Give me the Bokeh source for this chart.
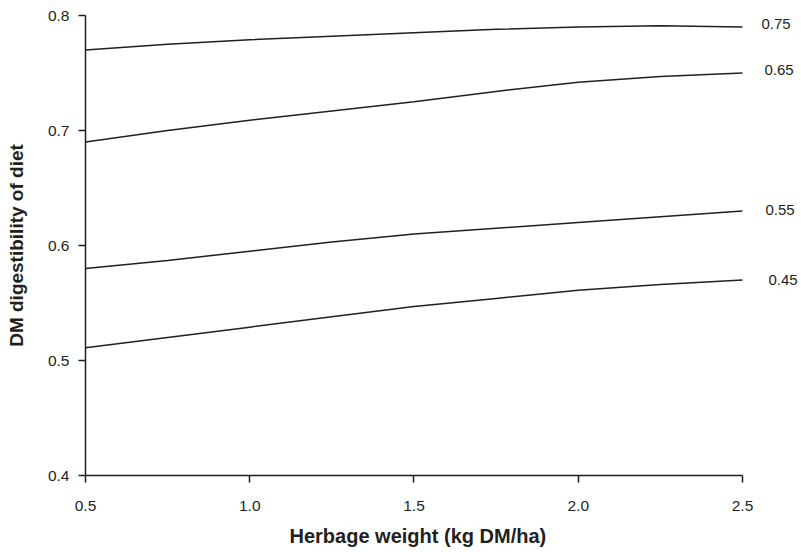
from bokeh.plotting import figure
from bokeh.models import Range1d, FixedTicker, PrintfTickFormatter, ColumnDataSource, Title
from bokeh.embed import file_html
from bokeh.resources import INLINE
from bokeh.core.properties import value

# Data
herbage = [0.5, 0.75, 1.0, 1.25, 1.5, 1.75, 2.0, 2.25, 2.5]
series_names = ["0.75", "0.65", "0.55", "0.45"]
dig_075 = [0.770, 0.775, 0.779, 0.782, 0.785, 0.788, 0.790, 0.791, 0.790]
dig_065 = [0.690, 0.700, 0.709, 0.717, 0.725, 0.734, 0.742, 0.747, 0.750]
dig_055 = [0.580, 0.587, 0.595, 0.603, 0.610, 0.615, 0.620, 0.625, 0.630]
dig_045 = [0.511, 0.520, 0.529, 0.538, 0.547, 0.554, 0.561, 0.566, 0.570]
x_ticks = [0.5, 1.0, 1.5, 2.0, 2.5]
y_ticks = [0.4, 0.5, 0.6, 0.7, 0.8]
x_label = "Herbage weight (kg DM/ha)"
y_label = "DM digestibility of diet"

series = [dig_075, dig_065, dig_055, dig_045]

INK = "#231f20"
FONT = "Liberation Sans"

# frame extends right of 2.5 so the curve labels have room (axis bounded at 2.5)
p = figure(frame_width=715, frame_height=460, output_backend="svg", toolbar_location=None,
           x_range=Range1d(0.5, 2.6766), y_range=Range1d(0.4, 0.8),
           min_border_left=85, min_border_right=0, min_border_top=15, min_border_bottom=77)
p.outline_line_color = None
p.grid.visible = False
p.background_fill_color = "white"
p.border_fill_color = "white"

for ys in series:
    p.line(herbage, ys, line_color=INK, line_width=1.5)

# Right-side labels at the end of each curve (pixel nudges are styling only)
label_dx = [19, 22, 23, 26]
label_dy = [-3, -3, -1, 0]
label_src = ColumnDataSource(dict(x=[herbage[-1]] * len(series),
                                  y=[s[-1] for s in series],
                                  t=series_names, dx=label_dx, dy=label_dy))
p.text(x="x", y="y", text="t", source=label_src, x_offset="dx", y_offset="dy",
       text_align="left", text_baseline="middle", text_color=INK,
       text_font=value(FONT), text_font_size="15px")

for ax in (p.xaxis[0], p.yaxis[0]):
    ax.axis_line_color = INK
    ax.axis_line_width = 1.5
    ax.major_tick_line_color = INK
    ax.major_tick_line_width = 1.5
    ax.major_tick_in = 0
    ax.major_tick_out = 7
    ax.minor_tick_line_color = None
    ax.major_label_text_font = FONT
    ax.major_label_text_font_size = "15.5px"
    ax.major_label_text_color = INK
    ax.axis_label_text_font = FONT
    ax.axis_label_text_font_style = "bold"
    ax.axis_label_text_color = INK
    ax.formatter = PrintfTickFormatter(format="%.1f")

p.xaxis[0].ticker = FixedTicker(ticks=x_ticks)
p.xaxis[0].bounds = (0.5, 2.5)
p.xaxis[0].major_label_standoff = 18

# x-axis title centred under the bounded axis (not the wider frame)
p.add_layout(Title(text=x_label, align="left", offset=204, standoff=18,
                   text_font=FONT, text_font_size="20px", text_font_style="bold",
                   text_color=INK), "below")

p.yaxis[0].ticker = FixedTicker(ticks=y_ticks)
p.yaxis[0].bounds = (0.4, 0.8)
p.yaxis[0].axis_label = y_label
p.yaxis[0].axis_label_text_font_size = "19px"
p.yaxis[0].major_label_standoff = 9
p.yaxis[0].axis_label_standoff = 18

open("out.html", "w").write(file_html(p, INLINE))
